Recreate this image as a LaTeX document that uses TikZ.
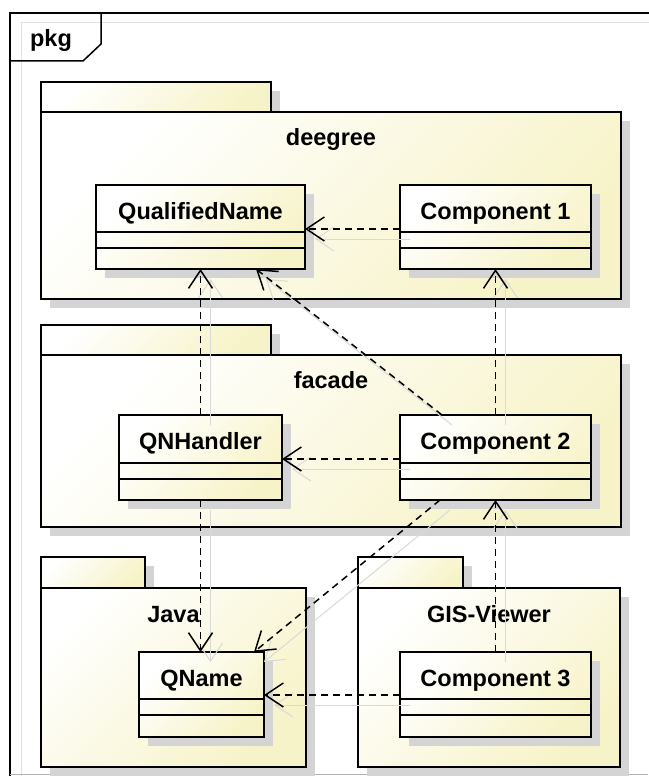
\documentclass[tikz,border=0pt]{standalone}
\usepackage{fontspec}
\setmainfont{Liberation Sans}
\usetikzlibrary{arrows.meta,calc,shadows}
\definecolor{umlyellow}{RGB}{247,243,200}
\definecolor{umlshadow}{RGB}{212,212,212}
\tikzset{
  umlfill/.style={shading=axis, left color=white, right color=umlyellow, shading angle=45},
  pkgpart/.style={draw, line width=2.5pt, umlfill, inner sep=0pt, outer sep=0pt,
    drop shadow={shadow xshift=9pt, shadow yshift=-9pt, fill=umlshadow, opacity=1}},
  classbox/.style={pkgpart},
  compline/.style={line width=2pt},
  umltext/.style={font=\bfseries\fontsize{23.5}{28}\selectfont, inner sep=0pt, anchor=base},
  dep/.style={line width=1.5pt, dash pattern=on 7pt off 5pt,
    -{Straight Barb[length=18pt,width=24pt,line width=1.5pt]}},
  depshadow/.style={draw=black!15, line width=1pt, transform canvas={xshift=10pt,yshift=-10pt},
    -{Straight Barb[length=18pt,width=24pt,line width=1pt]}},
}
\begin{document}
\begin{tikzpicture}[x=1pt,y=-1pt]
\useasboundingbox (0,0) rectangle (648,776);
% frame
\draw[black!12, line width=1pt] (21,800) |- (700,23);
\draw[line width=1.5pt] (10,800) |- (700,13);
\draw[black!30, line width=1pt] (10,774) -- (648,774);
\draw[line width=1.5pt] (10,61) -- (83,61) -- (101,44) -- (101,13);
\node[umltext] (pkg) at (51,47) {pkg};

% packages
\node[pkgpart, minimum width=230pt, minimum height=30pt] (deegree-tab) at (156,97) {};
\node[pkgpart, minimum width=580pt, minimum height=187pt] (deegree) at (331,205.5) {};
\node[umltext] (deegree-t) at ($(deegree.north)+(0,33)$) {deegree};

\node[pkgpart, minimum width=230pt, minimum height=30pt] (facade-tab) at (156,340) {};
\node[pkgpart, minimum width=580pt, minimum height=172pt] (facade) at (331,441) {};
\node[umltext] (facade-t) at ($(facade.north)+(0,33)$) {facade};

\node[pkgpart, minimum width=104pt, minimum height=31pt] (java-tab) at (93,572.5) {};
\node[pkgpart, minimum width=265pt, minimum height=179pt] (java) at (173.5,677.5) {};
\node[umltext] (java-t) at ($(java.north)+(0,34)$) {Java};

\node[pkgpart, minimum width=105pt, minimum height=31pt] (gis-tab) at (410.5,572.5) {};
\node[pkgpart, minimum width=262pt, minimum height=179pt] (gis) at (489,677.5) {};
\node[umltext] (gis-t) at ($(gis.north)+(0,34)$) {GIS-Viewer};

% classes
\node[classbox, minimum width=209pt, minimum height=84pt] (qualname) at (200.5,227) {};
\node[umltext] (qualname-t) at ($(qualname.north)+(0,34)$) {QualifiedName};
\draw[compline] ($(qualname.north west)+(0,47)$) -- ($(qualname.north east)+(0,47)$)
  ($(qualname.north west)+(0,63)$) -- ($(qualname.north east)+(0,63)$);

\node[classbox, minimum width=191pt, minimum height=84pt] (comp1) at (495.5,227) {};
\node[umltext] (comp1-t) at ($(comp1.north)+(0,34)$) {Component 1};
\draw[compline] ($(comp1.north west)+(0,47)$) -- ($(comp1.north east)+(0,47)$)
  ($(comp1.north west)+(0,63)$) -- ($(comp1.north east)+(0,63)$);

\node[classbox, minimum width=163pt, minimum height=85pt] (qnhandler) at (200.5,457.5) {};
\node[umltext] (qnhandler-t) at ($(qnhandler.north)+(0,34)$) {QNHandler};
\draw[compline] ($(qnhandler.north west)+(0,48)$) -- ($(qnhandler.north east)+(0,48)$)
  ($(qnhandler.north west)+(0,64)$) -- ($(qnhandler.north east)+(0,64)$);

\node[classbox, minimum width=191pt, minimum height=85pt] (comp2) at (495.5,457.5) {};
\node[umltext] (comp2-t) at ($(comp2.north)+(0,34)$) {Component 2};
\draw[compline] ($(comp2.north west)+(0,48)$) -- ($(comp2.north east)+(0,48)$)
  ($(comp2.north west)+(0,64)$) -- ($(comp2.north east)+(0,64)$);

\node[classbox, minimum width=125pt, minimum height=85pt] (qname) at (201.5,694.5) {};
\node[umltext] (qname-t) at ($(qname.north)+(0,34)$) {QName};
\draw[compline] ($(qname.north west)+(0,47)$) -- ($(qname.north east)+(0,47)$)
  ($(qname.north west)+(0,63)$) -- ($(qname.north east)+(0,63)$);

\node[classbox, minimum width=191pt, minimum height=85pt] (comp3) at (495.5,694.5) {};
\node[umltext] (comp3-t) at ($(comp3.north)+(0,34)$) {Component 3};
\draw[compline] ($(comp3.north west)+(0,47)$) -- ($(comp3.north east)+(0,47)$)
  ($(comp3.north west)+(0,63)$) -- ($(comp3.north east)+(0,63)$);

% dependencies
\foreach \sty in {depshadow,dep} {
  \draw[\sty] ($(comp1.north west)+(0,44)$) -- ($(qualname.north east)+(0,44)$);
  \draw[\sty] (qnhandler.north) -- (qualname.south);
  \draw[\sty] ($(comp2.north west)+(42,0)$) -- ($(qualname.south west)+(160,0)$);
  \draw[\sty] (comp2.north) -- (comp1.south);
  \draw[\sty] ($(comp2.north west)+(0,44)$) -- ($(qnhandler.north east)+(0,44)$);
  \draw[\sty] (qnhandler.south) -- (qnhandler.south |- qname.north);
  \draw[\sty] ($(comp2.south west)+(40,0)$) -- ($(qname.north east)+(-10,0)$);
  \draw[\sty] (comp3.north) -- (comp2.south);
  \draw[\sty] ($(comp3.north west)+(0,43)$) -- ($(qname.north east)+(0,43)$);
}
\end{tikzpicture}
\end{document}
